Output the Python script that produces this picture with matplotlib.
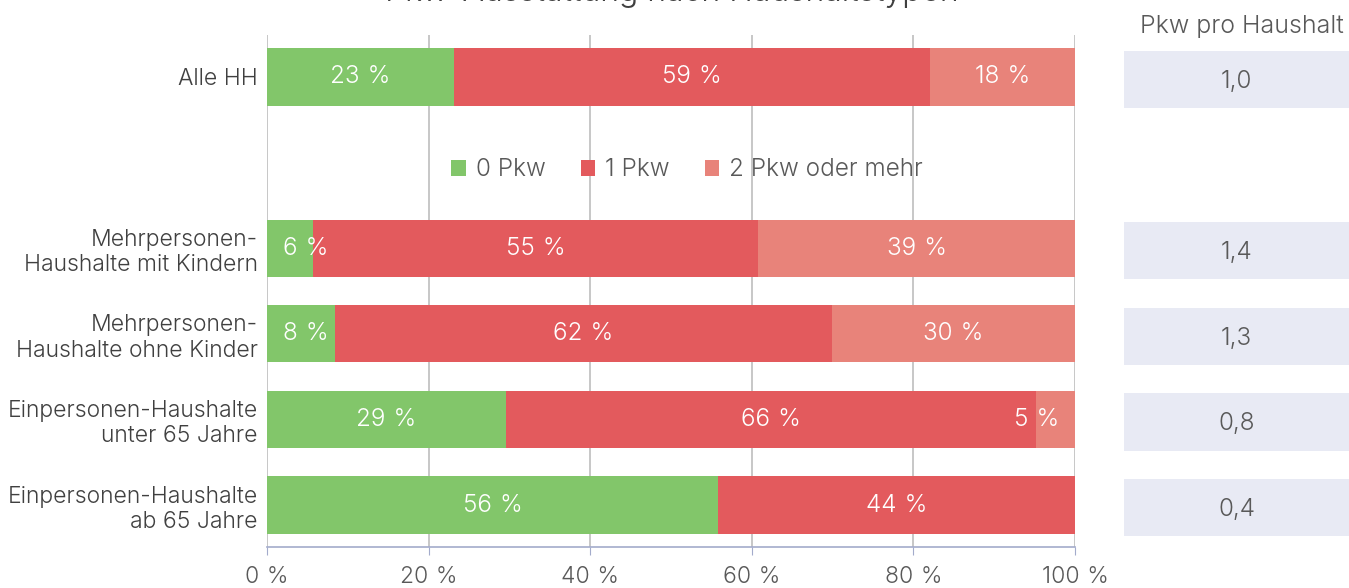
import matplotlib
matplotlib.use("Agg")
import matplotlib.pyplot as plt
from matplotlib.patches import Patch

plt.rcParams['font.family'] = ['Inter', 'DejaVu Sans']
plt.rcParams['font.weight'] = 300

title = "Pkw-Ausstattung nach Haushaltstypen"
categories = ["Alle HH",
              "Mehrpersonen-\nHaushalte mit Kindern",
              "Mehrpersonen-\nHaushalte ohne Kinder",
              "Einpersonen-Haushalte\nunter 65 Jahre",
              "Einpersonen-Haushalte\nab 65 Jahre"]
row_pos = [0, 2, 3, 4, 5]
series_names = ["0 Pkw", "1 Pkw", "2 Pkw oder mehr"]
pkw0 = [23.1, 5.7, 8.4, 29.6, 55.8]
pkw1 = [58.9, 55.1, 61.5, 65.6, 44.2]
pkw2 = [18.0, 39.2, 30.1, 4.8, 0.0]
labels0 = [23, 6, 8, 29, 56]
labels1 = [59, 55, 62, 66, 44]
labels2 = [18, 39, 30, 5, None]
pkw_pro_hh = ["1,0", "1,4", "1,3", "0,8", "0,4"]
xticks = [0, 20, 40, 60, 80, 100]

colors = ["#82C66A", "#E35A5D", "#E8837A"]
W, H = 1349, 588
fig = plt.figure(figsize=(W / 100, H / 100), dpi=100)

ax = fig.add_axes([267 / W, 41 / H, 808 / W, 512 / H])
ylim = (5.49, -0.49)
bh = 0.667
sp = "\u2004"

left = [0.0] * len(categories)
seg_info = []
for vals, labs, col in zip([pkw0, pkw1, pkw2], [labels0, labels1, labels2], colors):
    ax.barh(row_pos, vals, left=left, height=bh, color=col, zorder=2, linewidth=0)
    for i, (v, lab) in enumerate(zip(vals, labs)):
        if lab is not None and v > 0:
            seg_info.append((row_pos[i], left[i], left[i] + v, f"{lab}{sp}%"))
    left = [l + v for l, v in zip(left, vals)]

ax.set_xlim(0, 100)
ax.set_ylim(*ylim)
ax.set_xticks(xticks)
ax.set_xticklabels([f"{t}{sp}%" for t in xticks], fontsize=16.5, color="#595959")
ax.set_yticks(row_pos)
ax.set_yticklabels(categories, fontsize=16.5, color="#404040", linespacing=1.2)
ax.tick_params(axis='y', length=0, pad=6.5)
ax.tick_params(axis='x', length=6, color="#A3ABCB", pad=7.5)
ax.grid(axis='x', color="#BEBEBE", linewidth=1.2, zorder=0)
for s in ['top', 'right', 'left']:
    ax.spines[s].set_visible(False)
ax.spines['bottom'].set_color("#A3ABCB")
ax.spines['bottom'].set_linewidth(1.2)

# bar labels, kept inside the bar with padding
texts = []
for y, l, r, s in seg_info:
    t = ax.text((l + r) / 2, y, s, ha='center', va='center', color='white', fontsize=17.5, zorder=3)
    texts.append((t, l, r, y))
fig.canvas.draw()
rend = fig.canvas.get_renderer()
px_per_unit = 808 / 100.0
pad = 16 / px_per_unit
for t, l, r, y in texts:
    w = t.get_window_extent(rend).width / px_per_unit
    x = (l + r) / 2
    x = max(x, 0 + pad + w / 2)
    x = min(x, 100 - pad - w / 2)
    t.set_x(x)

# legend
handles = [Patch(facecolor=c, edgecolor='none') for c in colors]
leg = fig.legend(handles, series_names, loc='center', bbox_to_anchor=(687 / W, 1 - 170 / H),
                 ncol=3, frameon=False, fontsize=17.5, handlelength=0.6, handleheight=0.6,
                 handletextpad=0.4, columnspacing=1.45, labelcolor="#595959")

# right side boxes
ax2 = fig.add_axes([1124 / W, 41 / H, (W - 1124) / W, 512 / H])
ax2.barh([p + 0.03 for p in row_pos], [1] * len(row_pos), height=bh, color="#E8EAF4", linewidth=0)
for p, v in zip(row_pos, pkw_pro_hh):
    ax2.text(0.5, p + 0.05, v, ha='center', va='center', fontsize=17.5, color="#595959")
ax2.set_xlim(0, 1)
ax2.set_ylim(*ylim)
ax2.axis('off')
fig.text(1242 / W, 1 - 27 / H, "Pkw pro Haushalt", ha='center', va='center', fontsize=18, color="#595959")

fig.text(672 / W, 1 - 1.5 / H, title, ha='center', va='baseline', fontsize=23, color="#404040")

fig.savefig("out.png", dpi=100)
